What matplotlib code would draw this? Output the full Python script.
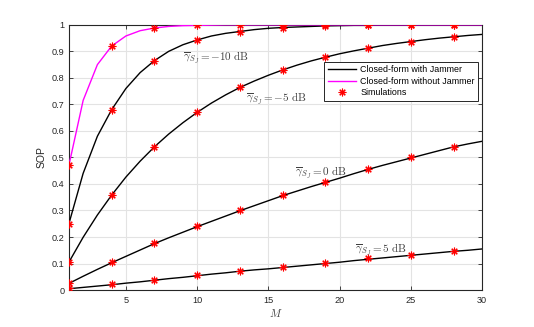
import numpy as np
import matplotlib
matplotlib.use("Agg")
import matplotlib.pyplot as plt
from matplotlib.lines import Line2D

plt.rcParams['mathtext.fontset'] = 'cm'
plt.rcParams['font.family'] = ['Liberation Sans', 'DejaVu Sans']

# ---- data ----
M_line = list(range(1, 31))
sop_m10 = [0.25, 0.44, 0.58, 0.68, 0.76, 0.82, 0.865, 0.90, 0.925, 0.943,
           0.958, 0.968, 0.975, 0.982, 0.987, 0.990, 0.992, 0.994, 0.996, 0.997,
           0.998, 0.998, 0.999, 0.999, 0.999, 1.0, 1.0, 1.0, 1.0, 1.0]
sop_m5 = [0.105, 0.199, 0.283, 0.358, 0.426, 0.486, 0.540, 0.588, 0.631, 0.670,
          0.705, 0.736, 0.764, 0.788, 0.810, 0.830, 0.848, 0.864, 0.878, 0.891,
          0.902, 0.912, 0.922, 0.930, 0.937, 0.944, 0.950, 0.955, 0.960, 0.964]
sop_0 = [0.025, 0.052, 0.078, 0.103, 0.127, 0.151, 0.175, 0.197, 0.218, 0.239,
         0.259, 0.279, 0.299, 0.318, 0.337, 0.356, 0.373, 0.390, 0.406, 0.422,
         0.439, 0.455, 0.470, 0.484, 0.498, 0.512, 0.526, 0.540, 0.551, 0.561]
sop_p5 = [0.005, 0.010, 0.015, 0.020, 0.026, 0.031, 0.037, 0.043, 0.048, 0.054,
          0.060, 0.065, 0.071, 0.076, 0.080, 0.085, 0.090, 0.095, 0.100, 0.105,
          0.111, 0.116, 0.121, 0.126, 0.131, 0.136, 0.141, 0.146, 0.150, 0.155]
sop_nojam = [0.47, 0.715, 0.85, 0.92, 0.958, 0.978, 0.988, 0.994, 0.997, 0.998,
             0.999, 1.0, 1.0, 1.0, 1.0, 1.0, 1.0, 1.0, 1.0, 1.0,
             1.0, 1.0, 1.0, 1.0, 1.0, 1.0, 1.0, 1.0, 1.0, 1.0]

M_sim = [1, 4, 7, 10, 13, 16, 19, 22, 25, 28]
sim_m10 = [0.25, 0.68, 0.865, 0.943, 0.972, 0.99, 0.996, 0.998, 0.999, 1.0]
sim_m5 = [0.105, 0.36, 0.54, 0.67, 0.765, 0.83, 0.878, 0.912, 0.937, 0.955]
sim_0 = [0.028, 0.105, 0.177, 0.240, 0.301, 0.357, 0.408, 0.456, 0.50, 0.54]
sim_p5 = [0.007, 0.022, 0.039, 0.055, 0.072, 0.087, 0.102, 0.119, 0.133, 0.148]
sim_nojam = [0.47, 0.92, 0.988, 1.0, 1.0, 1.0, 1.0, 1.0, 1.0, 1.0]

labels_legend = ['Closed-form with Jammer', 'Closed-form without Jammer', 'Simulations']
annotations = [(r'$\overline{\gamma}_{S_J} = -10\ \mathrm{dB}$', 9.0, 0.875),
               (r'$\overline{\gamma}_{S_J} = -5\ \mathrm{dB}$', 13.4, 0.72),
               (r'$\overline{\gamma}_{S_J} = 0\ \mathrm{dB}$', 16.9, 0.44),
               (r'$\overline{\gamma}_{S_J} = 5\ \mathrm{dB}$', 21.1, 0.15)]

# ---- plot ----
fig = plt.figure(figsize=(5.34, 3.27), dpi=100)
ax = fig.add_axes([0.129, 0.113, 0.774, 0.811])

axc = '#262626'
ast = (8, 2, 0)
for y in [sop_m10, sop_m5, sop_0, sop_p5]:
    ax.plot(M_line, y, color='black', lw=1.0, zorder=3)
ax.plot(M_line, sop_nojam, color='#ff00ff', lw=1.0, zorder=3)
for y in [sim_m10, sim_m5, sim_0, sim_p5, sim_nojam]:
    ax.plot(M_sim, y, ls='none', marker=ast, ms=5.5, mew=0.8, color='red', zorder=4)

for txt, x, y in annotations:
    ax.text(x, y, txt, fontsize=8, color='#404040', va='center', ha='left', zorder=5)

ax.set_xlim(1, 30)
ax.set_ylim(0, 1)
ax.set_xticks([5, 10, 15, 20, 25, 30])
ax.set_yticks(np.arange(0, 1.01, 0.1))
ax.set_yticklabels(['0', '0.1', '0.2', '0.3', '0.4', '0.5', '0.6', '0.7', '0.8', '0.9', '1'])
ax.grid(True, color='#e3e3e3', lw=0.8, zorder=0)
ax.set_axisbelow(True)
ax.tick_params(direction='in', top=True, right=True, length=3, width=0.6,
               colors=axc, labelsize=6.6, pad=3)
ax.tick_params(axis='x', pad=4.5)
for s in ax.spines.values():
    s.set_color(axc)
    s.set_linewidth(0.8)

ax.set_xlabel(r'$M$', fontsize=8, color='#404040', labelpad=1)
ax.set_ylabel('SOP', fontsize=7.5, color=axc, labelpad=4)

handles = [Line2D([], [], color='black', lw=1.0),
           Line2D([], [], color='#ff00ff', lw=1.0),
           Line2D([], [], ls='none', marker=ast, ms=5.5, mew=0.8, color='red')]
leg = ax.legend(handles, labels_legend, loc='upper right', bbox_to_anchor=(0.990, 0.860),
                fontsize=6.4, frameon=True, fancybox=False, framealpha=1,
                edgecolor=axc, handlelength=3.2, handletextpad=0.5,
                borderpad=0.35, labelspacing=0.3, borderaxespad=0)
leg.get_frame().set_linewidth(0.7)

fig.savefig('out.png', dpi=100)
